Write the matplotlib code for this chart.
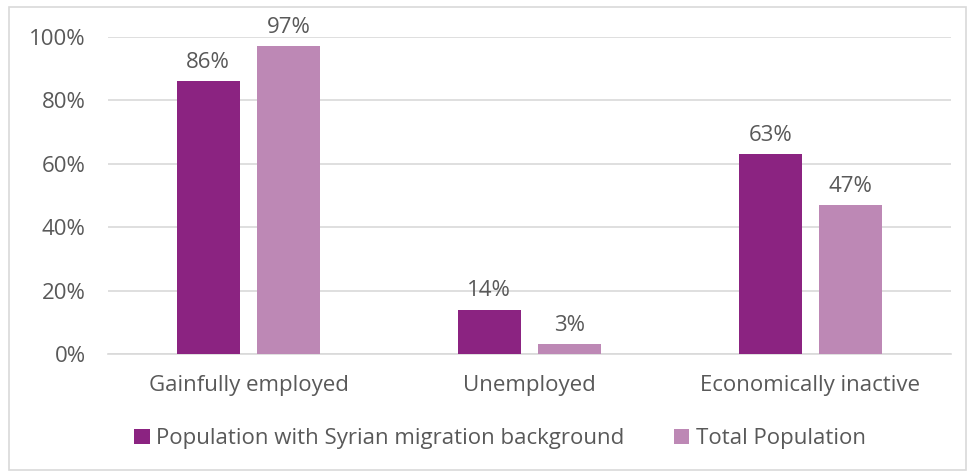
import matplotlib.pyplot as plt
import numpy as np
from matplotlib.patches import Rectangle

categories = ["Gainfully employed", "Unemployed", "Economically inactive"]
syrian = [86, 14, 63]
total = [97, 3, 47]
series_names = ["Population with Syrian migration background", "Total Population"]

plt.rcParams['font.family'] = ['Open Sans', 'DejaVu Sans']
text_col = '#595959'
grid_col = '#D9D9D9'
c1 = '#8B2381'
c2 = '#BD88B5'
fs = 16

fig = plt.figure(figsize=(9.71, 4.73), dpi=100)
ax = fig.add_axes([0.1112, 0.2516, 0.868, 0.6702])

x = np.arange(len(categories))
w = 0.224
off = 0.143
b1 = ax.bar(x - off, syrian, w, color=c1, label=series_names[0], zorder=3)
b2 = ax.bar(x + off, total, w, color=c2, label=series_names[1], zorder=3)

for bars, vals in ((b1, syrian), (b2, total)):
    for b, v in zip(bars, vals):
        ax.annotate(f"{v}%", (b.get_x() + b.get_width() / 2, v),
                    xytext=(0, 6), textcoords='offset points',
                    ha='center', va='bottom', fontsize=fs, color=text_col)

ax.set_xlim(-0.5, 2.5)
ax.set_ylim(0, 100)
ax.set_yticks(np.arange(0, 101, 20))
ax.set_yticklabels([f"{t}%" for t in range(0, 101, 20)])
ax.set_xticks(x)
ax.set_xticklabels(categories)
ax.tick_params(axis='y', length=0, pad=16, labelsize=fs, labelcolor=text_col)
ax.tick_params(axis='x', length=0, pad=15, labelsize=fs, labelcolor=text_col)
ax.grid(axis='y', color=grid_col, linewidth=1.2, zorder=0)
for s in ['top', 'right', 'left']:
    ax.spines[s].set_visible(False)
ax.spines['bottom'].set_color(grid_col)
ax.spines['bottom'].set_linewidth(1.2)

leg = fig.legend(loc='center', bbox_to_anchor=(0.515, 0.072), ncol=2, frameon=False,
                 fontsize=fs, handlelength=0.7, handleheight=0.7, handletextpad=0.3,
                 columnspacing=2.2)
for t in leg.get_texts():
    t.set_color(text_col)

fig.patches.append(Rectangle((9 / 971, 3 / 473), 957 / 971, 463 / 473,
                             transform=fig.transFigure, fill=False,
                             edgecolor=grid_col, linewidth=1.2))

fig.savefig("out.png", dpi=100)
